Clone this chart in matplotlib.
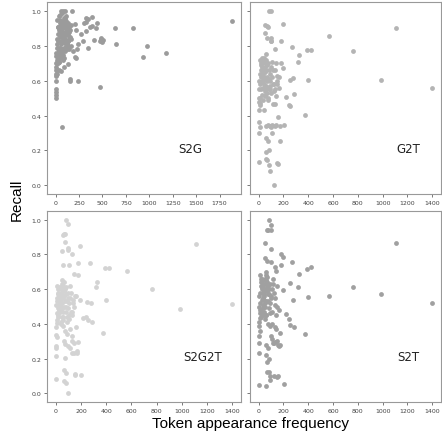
import matplotlib.pyplot as plt

# S2G panel (own token set)
s2g_freq = [1885, 632, 828, 650, 978, 928, 1178, 330, 345, 385,
            300, 320, 443, 371, 390, 330, 271, 214, 204, 436,
            490, 475, 505, 480, 495, 407, 293, 243, 343, 229,
            207, 215, 182, 150, 157, 236, 471, 71, 128, 54,
            7, 7, 7, 7, 5, 10, 12, 178, 57, 75,
            96,
            20, 25, 30, 35, 40, 45, 50, 55, 60, 65,
            70, 75, 80, 85, 90, 95, 100, 105, 110, 115,
            120, 125, 130, 135, 140, 145, 150, 155, 15, 18,
            22, 26, 32, 36, 38, 42, 46, 52, 58, 62,
            68, 72, 78, 82, 88, 92, 98, 102, 108, 112,
            118, 122, 128, 132, 138, 142, 10, 12, 8, 14,
            16, 20, 28, 34, 44, 54, 64, 74, 84, 94,
            104, 114, 124, 48, 58, 68, 78, 88, 98, 108,
            118, 24, 30, 36, 42, 50, 56, 62, 66, 76,
            86, 96, 106, 116, 126, 136, 146, 160, 170, 165,
            5, 6, 3, 9, 40, 60, 80, 100, 52, 72]
s2g_recall = [.941, .90, .90, .813, .80, .739, .76, .96, .955, .964,
              .93, .935, .93, .91, .915, .885, .866, .89, .925, .90,
              .838, .83, .835, .845, .82, .834, .826, .813, .788, .78,
              .737, .73, .77, .60, .61, .597, .565, .336, .697, .658,
              .55, .536, .52, .50, .60, .63, .66, 1.0, 1.0, 1.0,
              1.0,
              .95, .83, .91, .77, .87, .93, .79, .89, .81, .85,
              .82, .90, .75, .94, .86, .73, .96, .84, .92, .88,
              .87, .80, .83, .93, .78, .91, .85, .89, .81, .79,
              .91, .75, .97, .71, .89, .77, .73, .95, .87, .93,
              .93, .99, .85, .91, .83, .79, .95, .77, .97, .81,
              .81, .89, .79, .87, .83, .85, .76, .70, .74, .72,
              .64, .84, .70, .66, .90, .74, .86, .78, .82, .68,
              .86, .80, .88, .98, .76, .92, .72, .96, .82, .94,
              .81, .73, .87, .79, .71, .85, .83, .75, .78, .77,
              .94, .86, .82, .90, .78, .80, .88, .84, .92, .80,
              .70, .68, .66, .64, .90, .92, .88, .92, .86, .90]

# tokens shared by the G2T, S2G2T and S2T panels
freq = [1110, 1400, 985, 760, 565, 388, 424, 398, 377, 316,
        325, 270, 193, 177, 249, 276, 286, 218, 241, 256,
        195, 158, 174, 201, 169, 155, 180, 165, 150, 160,
        83, 100, 96, 74, 54, 67, 48, 70, 96, 128,
        56, 102, 143, 8, 8, 5, 3, 8, 3, 2,
        0, 2, 43, 56, 75, 94, 110, 128, 142, 102,
        110, 62, 75, 62, 83, 67, 83, 94, 126, 61,
        118, 131, 90, 70, 40, 125, 20, 146, 10, 15,
        20, 25, 30, 35, 40, 45, 50, 55, 12, 18,
        22, 28, 33, 38, 42, 47, 52, 58, 62, 66,
        72, 77, 82, 88, 92, 98, 105, 112, 120, 135,
        145, 150, 5, 8, 14, 24, 30, 36, 44, 50,
        57, 64, 70, 78, 86, 95, 108, 115, 130, 140,
        26, 34, 48, 60, 68, 80, 100, 16, 6, 39]
recall_g2t = [.900, .561, .605, .773, .855, .779, .779, .605, .406, .706,
              .746, .792, .924, .830, .607, .616, .523, .504, .462, .456,
              .672, .393, .340, .345, .254, .124, .700, .620, .130, .560,
              1.0, 1.0, .830, .906, .872, .914, .918, .845, .847, .780,
              .752, .830, .700, .475, .460, .430, .363, .332, .298, .134,
              .480, .500, .430, .340, .345, .340, .345, .340, .345, .335,
              .298, .270, .254, .190, .200, .143, .118, .084, .002, .152,
              .469, .469, .550, .600, .620, .580, .700, .600, .72, .69,
              .66, .64, .62, .60, .58, .56, .54, .52, .50, .55,
              .59, .63, .67, .71, .73, .68, .65, .61, .57, .53,
              .50, .49, .55, .60, .64, .68, .62, .58, .54, .66,
              .63, .58, .60, .64, .58, .52, .68, .56, .62, .70,
              .66, .62, .56, .70, .66, .57, .71, .66, .55, .51,
              .73, .49, .51, .72, .69, .61, .53, .62, .55, .65]
recall_s2g2t = [.862, .514, .486, .602, .707, .719, .723, .535, .346, .614,
                .642, .750, .847, .750, .524, .520, .413, .436, .442, .423,
                .535, .384, .294, .105, .245, .107, .680, .235, .113, .560,
                1.0, .977, .837, .920, .910, .918, .821, .874, .824, .803,
                .738, .740, .690, .422, .403, .384, .336, .327, .270, .260,
                .216, .082, .400, .390, .285, .270, .260, .235, .235, .450,
                .370, .300, .202, .137, .118, .068, .060, .000, .330, .440,
                .470, .450, .340, .360, .410, .300, .440, .290, .62, .60,
                .58, .56, .55, .53, .52, .50, .49, .47, .46, .45,
                .48, .51, .54, .57, .60, .63, .65, .62, .59, .56,
                .53, .50, .47, .44, .41, .55, .52, .55, .58, .54,
                .50, .56, .51, .55, .57, .53, .61, .50, .58, .52,
                .55, .50, .60, .57, .53, .49, .43, .62, .47, .52,
                .54, .47, .44, .42, .64, .61, .58, .49, .53, .57]
recall_s2t = [.866, .522, .570, .614, .562, .717, .725, .553, .344, .614,
              .685, .759, .788, .803, .635, .535, .384, .457, .430, .392,
              .595, .280, .350, .052, .280, .098, .740, .275, .094, .480,
              1.0, .971, .940, .939, .868, .942, .780, .760, .834, .725,
              .700, .755, .706, .460, .432, .413, .385, .360, .330, .290,
              .230, .050, .470, .450, .400, .390, .400, .380, .370, .330,
              .310, .280, .260, .220, .200, .180, .120, .100, .098, .040,
              .290, .295, .075, .120, .450, .290, .470, .300, .68, .66,
              .64, .62, .60, .58, .56, .54, .52, .50, .48, .46,
              .44, .47, .51, .55, .59, .63, .66, .68, .65, .61,
              .57, .53, .49, .46, .52, .56, .60, .63, .58, .55,
              .50, .62, .56, .52, .58, .61, .54, .63, .57, .60,
              .53, .64, .59, .62, .57, .63, .47, .66, .51, .45,
              .66, .49, .43, .45, .67, .60, .55, .62, .50, .65]

fig = plt.figure(figsize=(4.42, 4.35), dpi=100)
ax1 = fig.add_axes([0.1063, 0.5517, 0.439, 0.4407])
ax2 = fig.add_axes([0.5656, 0.5517, 0.432, 0.4407], sharey=ax1)
ax3 = fig.add_axes([0.1063, 0.0736, 0.439, 0.439], sharey=ax1)
ax4 = fig.add_axes([0.5656, 0.0736, 0.432, 0.439], sharey=ax1)

panels = [
    (ax1, s2g_freq, s2g_recall, '#9b9b9b', 'S2G', 0.74),
    (ax2, freq, recall_g2t, '#b4b4b4', 'G2T', 0.83),
    (ax3, freq, recall_s2g2t, '#d3d3d3', 'S2G2T', 0.80),
    (ax4, freq, recall_s2t, '#a0a0a0', 'S2T', 0.83),
]
for ax, x, y, c, name, tx in panels:
    ax.scatter(x, y, s=12, c=c, linewidths=0)
    ax.text(tx, 0.24, name, transform=ax.transAxes, ha='center',
            va='center', fontsize=8.5, color='#222222')
    ax.tick_params(labelsize=4.5, length=2, width=0.5, pad=2,
                   colors='#444444')
    for sp in ax.spines.values():
        sp.set_color('#999999')
        sp.set_linewidth(0.8)

ax1.set_xticks([0, 250, 500, 750, 1000, 1250, 1500, 1750])
for ax in (ax2, ax3, ax4):
    ax.set_xticks([0, 200, 400, 600, 800, 1000, 1200, 1400])
ax1.set_yticks([0.0, 0.2, 0.4, 0.6, 0.8, 1.0])
plt.setp(ax2.get_yticklabels(), visible=False)
plt.setp(ax4.get_yticklabels(), visible=False)

fig.text(0.038, 0.54, 'Recall', rotation=90, ha='center', va='center',
         fontsize=11, family='Liberation Sans')
fig.text(0.566, 0.025, 'Token appearance frequency', ha='center',
         va='center', fontsize=11, family='Liberation Sans')

fig.savefig('out.png', dpi=100)
